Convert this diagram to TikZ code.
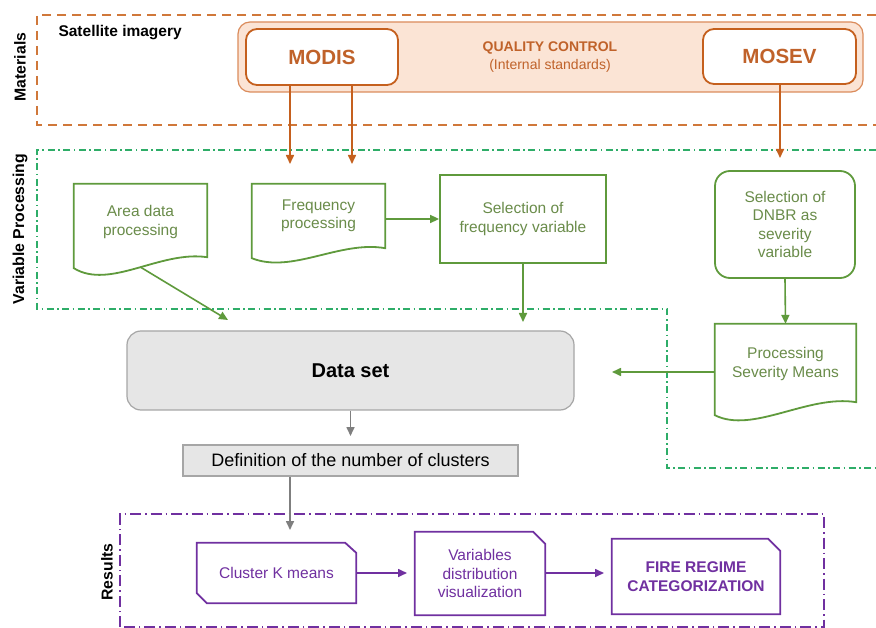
\documentclass[tikz,border=0pt]{standalone}
\usepackage{fontspec}
\setmainfont{Liberation Sans}
\usetikzlibrary{arrows.meta,calc}
\definecolor{orgC}{HTML}{C5601E}
\definecolor{orgT}{HTML}{C0622A}
\definecolor{orgF}{HTML}{FBE4D5}
\definecolor{orgB}{HTML}{DB8C5C}
\definecolor{orgD}{HTML}{D0783A}
\definecolor{grnB}{HTML}{5F9A3C}
\definecolor{grnT}{HTML}{6A8C4A}
\definecolor{grnD}{HTML}{2EAD68}
\definecolor{purC}{HTML}{7030A0}
\definecolor{gryF}{HTML}{E6E6E6}
\definecolor{gryB}{HTML}{A6A6A6}
\definecolor{gryA}{HTML}{7F7F7F}
\tikzset{
  fnt/.style={font=\fontsize{15.5}{18.5}\selectfont},
  ghost/.style={draw=none,inner sep=0pt,align=center,fnt},
  gshape/.style={draw=grnB,line width=1.8pt,line join=miter},
  pshape/.style={draw=purC,line width=1.8pt,line join=miter},
  obox/.style={draw=orgC,line width=1.8pt,fill=white,rounded corners=11pt,inner sep=0pt,
    text=orgT,font=\bfseries\fontsize{20.5}{24}\selectfont},
  tip/.style={-{Triangle[length=9pt,width=8pt]}},
  oarrow/.style={tip,draw=orgC,line width=1.6pt},
  garrow/.style={tip,draw=grnB,line width=1.6pt},
  parrow/.style={tip,draw=purC,line width=1.6pt},
  yarrow/.style={tip,draw=gryA,line width=1.6pt},
  matline/.style={draw=orgD,line width=1.8pt,dash pattern=on 9pt off 6pt},
  vpline/.style={draw=grnD,line width=1.8pt,dash pattern=on 7pt off 3.5pt on 1.5pt off 3.5pt},
  resline/.style={draw=purC,line width=1.8pt,dash pattern=on 11pt off 4pt on 1.5pt off 4pt},
  side/.style={rotate=90,font=\bfseries\fontsize{15.8}{18}\selectfont},
}
\begin{document}
\begin{tikzpicture}[x=1pt,y=-1pt]
\useasboundingbox (0,0) rectangle (876,628);
\fill[white] (0,0) rectangle (876,628);

% ---------- Materials ----------
\draw[matline] (876,15) -- (37,15) -- (37,125) -- (876,125);
\node[side] (lmat) at (20,67) {Materials};
\node[font=\bfseries\fontsize{15.5}{17}\selectfont,anchor=west] (sat) at (55,33) {Satellite imagery};
\node[draw=orgB,line width=1.2pt,fill=orgF,rounded corners=12pt,minimum width=625pt,minimum height=70pt,inner sep=0pt] (band) at (550.5,57) {};
\node[align=center,text=orgT,inner sep=0pt] (qc) at (550,57)
  {{\bfseries\fontsize{14}{18}\selectfont QUALITY CONTROL}\\[3.5pt]{\fontsize{14}{18}\selectfont(Internal standards)}};
\node[obox,minimum width=152pt,minimum height=56pt] (modis) at (322,57) {MODIS};
\node[obox,minimum width=153pt,minimum height=55pt] (mosev) at (779.5,56.5) {MOSEV};

% ---------- Variable Processing ----------
\draw[vpline] (876,150) -- (37,150) -- (37,309) -- (667,309) -- (667,468) -- (876,468);
\node[side] (lvp) at (20,229) {Variable Processing};

\node[ghost,text=grnT,minimum width=133pt,minimum height=76pt] (area) at (140.5,222) {Area data\\processing};
\draw[gshape] (area.north west) -- (area.north east) -- ($(area.south east)+(0,-3)$)
  .. controls ($(area.south east)+(-47,-10)$) and ($(area.south west)+(36,30)$) .. ($(area.south west)+(0,8)$)
  coordinate[pos=0.47] (areab) -- cycle;

\node[ghost,text=grnT,minimum width=133pt,minimum height=64pt] (freq) at (318.5,216) {Frequency\\processing};
\draw[gshape] (freq.north west) -- (freq.north east) -- (freq.south east)
  .. controls ($(freq.south east)+(-45,-8)$) and ($(freq.south west)+(40,26)$) .. ($(freq.south west)+(0,10)$) -- cycle;

\node[ghost,text=grnT,draw=grnB,line width=1.8pt,minimum width=166pt,minimum height=88pt] (selfreq) at (523,219) {Selection of\\frequency variable};

\node[ghost,text=grnT,draw=grnB,line width=1.8pt,rounded corners=15pt,minimum width=140pt,minimum height=107pt] (dnbr) at (785,224.5) {Selection of\\DNBR as\\severity\\variable};

\node[ghost,text=grnT,minimum width=141pt,minimum height=80pt] (psm) at (785.5,364) {Processing\\Severity Means};
\draw[gshape] (psm.north west) -- (psm.north east) -- ($(psm.south east)+(0,-2)$)
  .. controls ($(psm.south east)+(-48,-10)$) and ($(psm.south west)+(38,30)$) .. ($(psm.south west)+(0,11)$) -- cycle;

% ---------- Data set ----------
\node[draw=gryB,line width=1.2pt,fill=gryF,rounded corners=14pt,minimum width=447pt,minimum height=79pt,inner sep=0pt,
  font=\bfseries\fontsize{20}{22}\selectfont] (data) at (350.5,370.5) {Data set};
\node[draw=gryB,line width=1.2pt,fill=gryF,minimum width=335pt,minimum height=31pt,inner sep=0pt,
  font=\fontsize{18}{20}\selectfont] (def) at (350.5,460.5) {Definition of the number of clusters};

% ---------- Results ----------
\draw[resline] (120,627) -- (120,514) -- (824,514) -- (824,627) -- cycle;
\node[side] (lres) at (107,572) {Results};

\node[ghost,text=purC,minimum width=159pt,minimum height=60pt] (clus) at (276.5,573) {Cluster K means};
\draw[pshape] (clus.north west) -- ($(clus.north east)+(-11,0)$) -- ($(clus.north east)+(0,10)$) -- (clus.south east)
  -- ($(clus.south west)+(10,0)$) -- ($(clus.south west)+(0,-10)$) -- cycle;

\node[ghost,text=purC,minimum width=130pt,minimum height=83pt] (vdv) at (480,573.5) {Variables\\distribution\\visualization};
\draw[pshape] (vdv.north west) -- ($(vdv.north east)+(-12,0)$) -- ($(vdv.north east)+(0,12)$) -- (vdv.south east)
  -- (vdv.south west) -- cycle;

\node[ghost,text=purC,font=\bfseries\fontsize{15.5}{18.5}\selectfont,minimum width=168pt,minimum height=75pt] (fire) at (696,576.5) {FIRE REGIME\\CATEGORIZATION};
\draw[pshape] (fire.north west) -- ($(fire.north east)+(-12,0)$) -- ($(fire.north east)+(0,12)$) -- (fire.south east)
  -- (fire.south west) -- cycle;

% ---------- connectors ----------
\coordinate (m1) at (290,164);
\coordinate (m2) at (352,164);
\coordinate (m3) at (780,158);
\draw[oarrow] (modis.south -| m1) -- (m1);
\draw[oarrow] (modis.south -| m2) -- (m2);
\draw[oarrow] (mosev.south -| m3) -- (m3);

\coordinate (d1) at (228,320);
\coordinate (d2) at (523,322);
\coordinate (d3) at (612,372);
\draw[garrow] (areab) -- (d1);
\draw[garrow] (freq.east |- selfreq.west) -- (selfreq.west);
\draw[garrow] (selfreq.south) -- (d2);
\draw[garrow] (dnbr.south) -- (psm.north);
\draw[garrow] (psm.west |- d3) -- (d3);

\coordinate (d4) at (350.5,436);
\coordinate (d5) at (290,530);
\draw[yarrow] (data.south) -- (d4);
\draw[yarrow] (def.south -| d5) -- (d5);

\coordinate (d6) at (407,573);
\coordinate (d7) at (604,573);
\draw[parrow] (clus.east) -- (d6);
\draw[parrow] (vdv.east |- d7) -- (d7);
\end{tikzpicture}
\end{document}
